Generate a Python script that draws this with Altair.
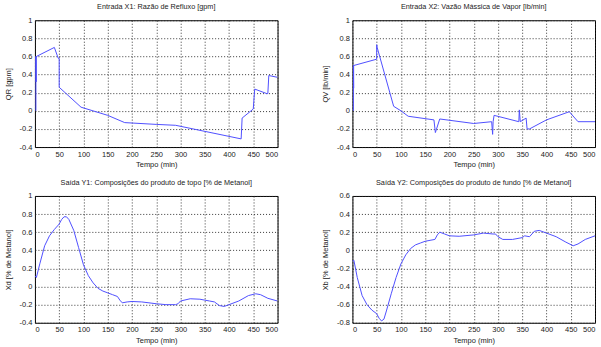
import altair as alt
import pandas as pd

# Time axis (min) shared by all panels
X_TICKS = [0, 50, 100, 150, 200, 250, 300, 350, 400, 450, 500]

# Input X1: reflux ratio QR [gpm]
qr_t = [2, 2, 2.5, 2.5, 3, 40, 48, 50, 50, 95, 150, 185, 250, 290, 425, 427, 450, 451, 453, 478, 480, 482, 500]
qr_v = [0.0, 0.6, 0.32, 0.6, 0.6, 0.7, 0.58, 0.58, 0.26, 0.04, -0.05, -0.13, -0.15, -0.16, -0.31, -0.08, 0.02, 0.1, 0.24, 0.19, 0.19, 0.39, 0.37]

# Input X2: vapour mass flow QV [lb/min]
qv_t = [2, 2, 2.5, 2.5, 50, 50, 51, 85, 100, 115, 168, 171, 180, 250, 287, 289, 290, 292, 343, 344, 346, 358, 360, 365, 400, 447, 465, 500]
qv_v = [0.0, 0.5, 0.25, 0.5, 0.57, 0.73, 0.7, 0.05, 0.0, -0.06, -0.1, -0.24, -0.09, -0.14, -0.12, -0.26, -0.12, -0.05, -0.12, 0.01, -0.12, -0.08, -0.2, -0.2, -0.1, -0.01, -0.12, -0.12]

# Output Y1: top product composition Xd
xd_t = [0, 3, 10, 20, 30, 40, 50, 55, 60, 65, 70, 80, 90, 100, 110, 120, 130, 140, 150, 160, 170, 175, 180, 190, 200, 220, 250, 270, 290, 295, 300, 320, 340, 350, 360, 370, 380, 390, 400, 420, 440, 455, 465, 480, 500]
xd_v = [0.12, 0.1, 0.25, 0.45, 0.56, 0.63, 0.69, 0.74, 0.77, 0.77, 0.74, 0.62, 0.43, 0.24, 0.12, 0.04, -0.02, -0.05, -0.07, -0.09, -0.11, -0.15, -0.18, -0.17, -0.165, -0.17, -0.19, -0.2, -0.2, -0.19, -0.16, -0.135, -0.14, -0.15, -0.16, -0.17, -0.21, -0.22, -0.2, -0.16, -0.1, -0.08, -0.09, -0.13, -0.16]

# Output Y2: bottom product composition Xb
xb_t = [0, 3, 10, 20, 30, 40, 50, 55, 60, 65, 70, 80, 90, 100, 110, 120, 130, 140, 150, 160, 170, 175, 180, 190, 200, 220, 250, 270, 290, 295, 300, 310, 330, 350, 355, 365, 375, 385, 400, 420, 440, 455, 465, 480, 500]
xb_v = [-0.12, -0.11, -0.3, -0.5, -0.6, -0.66, -0.7, -0.75, -0.78, -0.76, -0.67, -0.48, -0.3, -0.15, -0.05, 0.02, 0.06, 0.08, 0.1, 0.11, 0.12, 0.17, 0.2, 0.18, 0.16, 0.155, 0.17, 0.19, 0.18, 0.18, 0.15, 0.12, 0.12, 0.14, 0.16, 0.15, 0.21, 0.22, 0.19, 0.15, 0.09, 0.05, 0.07, 0.12, 0.16]

TICKS_A = [-0.4, -0.2, 0, 0.2, 0.4, 0.6, 0.8, 1]
TICKS_B = [-0.8, -0.6, -0.4, -0.2, 0, 0.2, 0.4, 0.6]

W, H = 243, 127
LINE = "#4f4fff"


def panel(t, v, title, ytitle, yticks):
    df = pd.DataFrame({"t": t, "v": v, "i": range(len(t))})
    return (
        alt.Chart(df, title=title)
        .mark_line(color=LINE, strokeWidth=1, clip=True)
        .encode(
            x=alt.X(
                "t:Q",
                scale=alt.Scale(domain=[0, 500], nice=False),
                axis=alt.Axis(values=X_TICKS, title="Tempo (min)", labelExpr="'' + datum.value"),
            ),
            y=alt.Y(
                "v:Q",
                scale=alt.Scale(domain=[yticks[0], yticks[-1]], nice=False),
                axis=alt.Axis(values=yticks, title=ytitle, labelExpr="'' + datum.value"),
            ),
            order="i:Q",
        )
        .properties(width=W, height=H)
    )


p1 = panel(qr_t, qr_v, "Entrada X1: Razão de Refluxo [gpm]", "QR [gpm]", TICKS_A)
p2 = panel(qv_t, qv_v, "Entrada X2: Vazão Mássica de Vapor [lb/min]", "QV [lb/min]", TICKS_A)
p3 = panel(xd_t, xd_v, "Saída Y1: Composições do produto de topo [% de Metanol]", "Xd [% de Metanol]", TICKS_A)
p4 = panel(xb_t, xb_v, "Saída Y2: Composições do produto de fundo [% de Metanol]", "Xb [% de Metanol]", TICKS_B)

chart = (
    alt.concat(p1, p2, p3, p4, columns=2, spacing={"row": 49, "column": 75}, bounds="flush")
    .properties(padding={"left": 3, "top": 2, "right": 5, "bottom": 5}, background="white")
    .configure(font="Liberation Sans")
    .configure_view(stroke="black", strokeWidth=1)
    .configure_axis(
        grid=True,
        gridColor="#222",
        gridDash=[1, 2],
        gridOpacity=0.9,
        gridWidth=1,
        domain=False,
        ticks=False,
        labelFontSize=7.5,
        labelColor="#222",
        labelPadding=3,
        titleFontSize=7.5,
        titleFontWeight="normal",
        titleColor="#222",
    )
    .configure_axisY(titlePadding=7)
    .configure_axisX(titlePadding=3)
    .configure_title(fontSize=7.3, fontWeight="normal", color="#222", offset=6, anchor="middle")
)

chart.save("out.html", embed_options={"renderer": "svg", "actions": False})
